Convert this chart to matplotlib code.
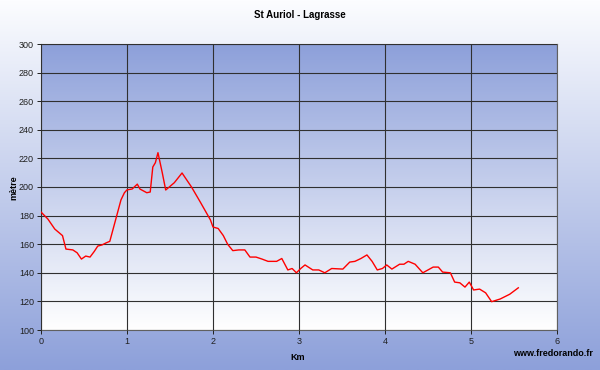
import matplotlib
matplotlib.use("Agg")
import matplotlib.pyplot as plt
import numpy as np

# profile data (km, metres)
km = [0.0, 0.08, 0.16, 0.25, 0.29, 0.37, 0.42, 0.47, 0.52, 0.57, 0.62, 0.66, 0.71, 0.76,
      0.8, 0.87, 0.93, 0.97, 1.0, 1.06, 1.12, 1.15, 1.23, 1.27, 1.3, 1.33, 1.36, 1.41,
      1.45, 1.55, 1.64, 1.75, 1.85, 1.97, 2.0, 2.06, 2.12, 2.17, 2.23, 2.3, 2.37, 2.43,
      2.5, 2.57, 2.64, 2.74, 2.8, 2.87, 2.92, 2.97, 3.02, 3.07, 3.16, 3.23, 3.3, 3.38,
      3.51, 3.59, 3.65, 3.72, 3.79, 3.85, 3.91, 3.97, 4.02, 4.08, 4.17, 4.22, 4.27, 4.35,
      4.44, 4.5, 4.56, 4.62, 4.67, 4.76, 4.81, 4.87, 4.93, 4.98, 5.03, 5.1, 5.17, 5.24,
      5.34, 5.45, 5.55]
alt = [182.5, 177.6, 170.6, 166, 156.6, 156, 154, 149.6, 151.7, 151, 155, 158.7, 159.5, 161,
       162, 177.6, 191, 196, 198, 198.6, 202, 198.6, 196, 196.5, 214, 217, 224, 210,
       197.9, 203, 209.8, 200, 189.7, 177, 172, 171, 166, 160, 155.5, 156, 156, 151,
       151, 149.6, 148, 148, 150, 142, 143, 140, 143, 145.5, 142, 142, 140, 143,
       142.6, 147.5, 148, 150, 152.5, 148, 142, 143, 145.5, 142.6, 146, 146, 148, 146,
       140, 142, 144, 144, 140.5, 140, 133.5, 133, 130, 133.5, 128, 128.6, 126, 119.8,
       121.7, 125, 129.5]

title = "St Auriol - Lagrasse"
xticks = [0, 1, 2, 3, 4, 5, 6]
yticks = [100, 120, 140, 160, 180, 200, 220, 240, 260, 280, 300]

plt.rcParams['font.family'] = ['Liberation Sans', 'DejaVu Sans']

fig = plt.figure(figsize=(6, 3.7), dpi=100)

blue = np.array([141, 160, 218]) / 255.0
white = np.array([252, 253, 255]) / 255.0

# figure background gradient: white top -> blue bottom
bg = fig.add_axes([0, 0, 1, 1], zorder=-10)
t = np.linspace(0, 1, 256)[:, None, None]
grad_fig = white * (1 - t) + blue * t
bg.imshow(grad_fig, aspect='auto', extent=[0, 1, 0, 1], origin='upper')
bg.axis('off')

ax = fig.add_axes([41 / 600, 1 - 330 / 370, 516 / 600, 286 / 370])
t2 = np.linspace(0, 1, 256)[:, None, None]
grad_ax = blue * (1 - t2) + np.array([1, 1, 1]) * t2
ax.imshow(grad_ax, aspect='auto', extent=[0, 6, 100, 300], origin='upper', zorder=0)

ax.plot(km, alt, color='#ff0000', lw=1.0, zorder=3)

ax.set_xlim(0, 6)
ax.set_ylim(100, 300)
ax.set_xticks(xticks)
ax.set_yticks(yticks)
ax.grid(True, color='#303030', lw=0.8, zorder=1)
ax.set_axisbelow(False)
for s in ax.spines.values():
    s.set_color('#606060')
    s.set_linewidth(0.8)
ax.tick_params(labelsize=6.5, colors='#202020', length=3, width=0.7, pad=2)

fig.text(0.5, 1 - 15 / 370, title, ha='center', va='center', fontsize=7, fontweight='bold')
fig.text(14 / 600, 1 - 188 / 370, "mètre", rotation=90, ha='center', va='center',
         fontsize=6.5, fontweight='bold')
fig.text(298 / 600, 1 - 357 / 370, "Km", ha='center', va='center', fontsize=6.5,
         fontweight='bold')
fig.text(593 / 600, 1 - 353 / 370, "www.fredorando.fr", ha='right', va='center',
         fontsize=6.5, fontweight='bold')

fig.savefig("out.png", dpi=100)
